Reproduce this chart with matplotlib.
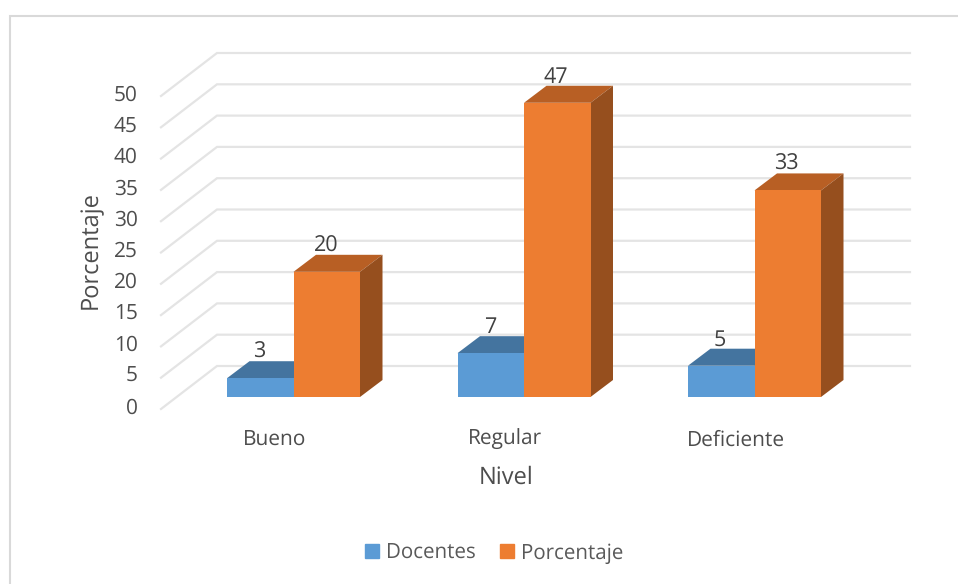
# 3d looking grouped bars, faked on a normal 2d axes
import matplotlib
matplotlib.use("Agg")
import matplotlib.pyplot as plt
from matplotlib.lines import Line2D
from matplotlib.patches import Patch, Polygon

categories = ["Bueno", "Regular", "Deficiente"]
docentes = [3, 7, 5]
porcentaje = [20, 47, 33]
y_ticks = [0, 5, 10, 15, 20, 25, 30, 35, 40, 45, 50]

W, H = 958, 584
PX_X = 230.5   # pixels per category
PX_Y = 6.26    # pixels per percent unit

plt.rcParams["font.family"] = ["Open Sans", "DejaVu Sans"]
plt.rcParams["text.hinting"] = "no_hinting"

fig = plt.figure(figsize=(W / 100, H / 100), dpi=100)
# the picture is cropped, only the left and top border of the chart are left
fig.add_artist(Line2D([10 / W, 10 / W, 1], [0, 1 - 16 / H, 1 - 16 / H], transform=fig.transFigure,
                      color="#d9d9d9", linewidth=1.5, solid_joinstyle="miter"))

# axes box: x pixels 161-910, y pixels 52-409
ax = fig.add_axes([161 / W, 1 - 409 / H, (910 - 161) / W, (409 - 52) / H])
ax.set_xlim((161 - 293.5) / PX_X, (910 - 293.5) / PX_X)
ax.set_ylim((397 - 409) / PX_Y, (397 - 52) / PX_Y)
ax.axis("off")

x0, x1 = ax.get_xlim()
wall_x = x0 + 56 / PX_X
front_dy = -12 / PX_Y
back_dy = 31 / PX_Y

# walls
for v in y_ticks:
    ax.plot([x0, wall_x, x1], [v + front_dy, v + back_dy, v + back_dy], color="#e4e4e4",
            linewidth=1.6, zorder=1, clip_on=False, solid_joinstyle="miter")
    ax.text(x0 - 23.5 / PX_X, v + 3.5 / PX_Y + front_dy, str(v), ha="right", va="center_baseline",
            fontsize=15, color="#4d4d4d")

bar_w = 66.5 / PX_X
depth_x = 22.5 / PX_X
depth_y = 17 / PX_Y


def draw_bars(centers, values, front, top, side, z):
    ax.bar(centers, values, width=bar_w, color=front, zorder=z + 0.2, linewidth=0)
    for c, v in zip(centers, values):
        l = c - bar_w / 2
        r = c + bar_w / 2
        ax.add_patch(Polygon([(l, v), (r, v), (r + depth_x, v + depth_y), (l + depth_x, v + depth_y)],
                             facecolor=top, edgecolor="none", zorder=z))
        ax.add_patch(Polygon([(r, 0), (r + depth_x, depth_y), (r + depth_x, v + depth_y), (r, v)],
                             facecolor=side, edgecolor="none", zorder=z))
        ax.text(c - 1 / PX_X, v + 26 / PX_Y, str(v), ha="center", va="center", fontsize=15.5,
                color="#404040", zorder=6)


pos = list(range(len(categories)))
draw_bars([p - bar_w / 2 for p in pos], docentes, "#5b9bd5", "#44749f", "#3a6489", 2)
draw_bars([p + bar_w / 2 for p in pos], porcentaje, "#ed7d31", "#b85f24", "#964f1e", 3)

for p, name in zip(pos, categories):
    ax.text(p - 18.5 / PX_X, (397 - 440) / PX_Y, name, ha="center", va="center", fontsize=15,
            color="#4d4d4d")

ax.text(1 - 18 / PX_X, (397 - 478) / PX_Y, "Nivel", ha="center", va="center", fontsize=17,
        color="#4d4d4d")
ax.text(x0 - 70 / PX_X, (397 - 250) / PX_Y, "Porcentaje", ha="center", va="center", rotation=90,
        fontsize=17, color="#4d4d4d")

handles = [Patch(color="#5b9bd5", label="Docentes"), Patch(color="#ed7d31", label="Porcentaje")]
fig.legend(handles=handles, ncol=2, loc="center", bbox_to_anchor=(494 / W, 1 - 553 / H),
           frameon=False, fontsize=14.8, labelcolor="#595959", handlelength=0.7, handleheight=0.7,
           handletextpad=0.3, columnspacing=1.2, borderpad=0)

fig.savefig("out.png", dpi=100)
